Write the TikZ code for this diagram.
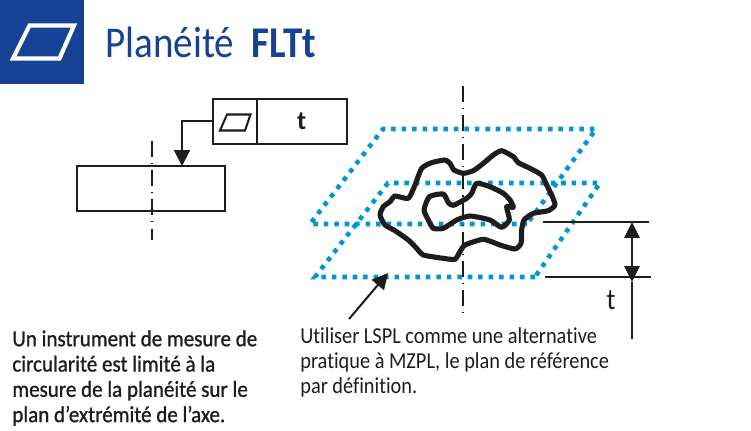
\documentclass[tikz,border=0pt]{standalone}
\usepackage{fontspec}
\setmainfont{Carlito}[Ligatures=NoCommon]
\newfontfamily\narrowfont{Carlito}[Ligatures=NoCommon,FakeStretch=0.89]
\newfontfamily\narrowbold{Carlito}[Ligatures=NoCommon,FakeStretch=0.92,FakeBold=1]
\usepackage{xcolor}
\usetikzlibrary{arrows.meta,positioning}
\definecolor{hdrblue}{HTML}{164194}
\definecolor{planeblue}{HTML}{0095D6}
\definecolor{inkblack}{HTML}{1D1D1B}

\begin{document}
\begin{tikzpicture}[
x=0.02cm,y=-0.02cm,
thinline/.style={draw=inkblack,line width=1.15pt},
thickline/.style={draw=inkblack,line width=1.5pt},
centerline/.style={draw=inkblack,line width=0.7pt,dash pattern=on 9pt off 3.5pt on 0.6pt off 3.5pt},
planeline/.style={draw=planeblue,line width=2.6pt,dash pattern=on 2.6pt off 3.35pt},
blobline/.style={draw=inkblack,line width=2.9pt,line join=round},
pointer/.style={-{Triangle[length=9pt,width=9pt]},inkblack},
twoway/.style={{Triangle[length=9pt,width=8.5pt]}-{Triangle[length=9pt,width=8.5pt]},thickline},
cellbox/.style={thinline,draw,outer sep=0pt,inner sep=0pt,minimum height=25.5pt},
bodytext/.style={anchor=north west,inner sep=0pt,align=left,text=inkblack}
]
    \useasboundingbox (0,0) rectangle (751,430);

    % Draw header
    \fill [hdrblue] (0,0) rectangle (84,84);
    \draw [white,line width=2.4pt,miter limit=10] (13,58.5) -- (29.5,25.5) -- (74,25.5) -- (59.5,58.5) -- cycle;
    \node (title) [anchor=west,inner sep=0pt,text=hdrblue,font=\fontsize{25}{28}\narrowfont] at (105,42) {Planéité\hspace{0.4em}{\bfseries FLTt}};

    % Draw feature frame
    \node (symbolcell) [cellbox,anchor=north west,minimum width=25pt] at (213,99) {};
    \node (tolcell) [cellbox,anchor=west,minimum width=51pt,font=\fontsize{15}{16}\selectfont\bfseries,text=inkblack] at (symbolcell.east) {t};
    \draw [thinline,miter limit=10] (220,130.5) -- (227,114.5) -- (250.5,114.5) -- (245,130.5) -- cycle;

    % Draw part
    \node (part) [cellbox,anchor=north west,minimum width=84.5pt] at (77,166) {};
    \coordinate (parttip) at (182,166);
    \draw [centerline] (152,141) -- (152,240);
    \draw [thinline,pointer] (symbolcell.west) -| (parttip);

    % Draw planes
    \coordinate (A) at (315,277);
    \coordinate (A2) at (535,277);
    \coordinate (B) at (600,183);
    \coordinate (B2) at (388,183);
    \coordinate (C) at (310,224);
    \coordinate (C2) at (527,224);
    \coordinate (D) at (596,129);
    \coordinate (D2) at (383,129);
    \draw [planeline] (C2) -- (C) -- (D2) -- (D) -- (C2);
    \draw [planeline] (A2) -- (A) -- (B2) -- (B) -- (A2);
    \draw [centerline] (463,86) -- (463,316);

    % Draw surface
    \begin{scope}[shift={(300,80)},scale=1/3]
    \draw [blobline] plot [smooth cycle,tension=0.35] coordinates {(365,265) (395,248) (435,240) (450,250) (462,270) (490,280) (520,272) (550,250) (580,225) (605,212) (640,230) (655,248) (690,265) (725,285) (740,315) (755,345) (765,375) (745,392) (700,400) (672,420) (665,450) (663,490) (645,507) (600,495) (550,478) (495,495) (480,515) (465,538) (430,535) (370,525) (350,505) (325,480) (285,452) (255,435) (240,405) (250,380) (270,365) (285,348) (325,355) (345,315)};
    \draw [blobline] plot [smooth cycle,tension=0.35] coordinates {(530,310) (570,320) (610,340) (630,360) (640,382) (620,380) (628,420) (605,442) (570,420) (510,408) (470,420) (430,445) (400,445) (385,420) (372,390) (388,350) (430,342) (445,368) (460,376) (500,355) (515,340)};
    \end{scope}

    % Draw dimension
    \coordinate (dimtop) at (632,222);
    \coordinate (dimbot) at (632,282);
    \coordinate (dimend) at (632,339);
    \draw [thinline] (543,222) -- (649,222);
    \draw [thinline] (545,277) -- (651,277);
    \draw [twoway] (dimtop) -- (dimbot);
    \draw [thickline] (dimbot) -- (dimend);
    \node (tlabel) [inner sep=0pt,text=inkblack,font=\fontsize{17}{18}\narrowfont] at (611,300) {t};

    % Draw pointer
    \coordinate (ptrfoot) at (349,319);
    \coordinate (ptrtip) at (388,273);
    \draw [thinline,pointer] (ptrfoot) -- (ptrtip);

    % Draw text
    \node (lefttext) [bodytext,font=\fontsize{13}{14.4}\narrowbold] at (12,330) {Un instrument de mesure de\\circularité est limité à la\\mesure de la planéité sur le\\plan d’extrémité de l’axe.};
    \node (righttext) [bodytext,font=\fontsize{13}{14.4}\narrowfont] at (300,327) {Utiliser LSPL comme une alternative\\pratique à MZPL, le plan de référence\\par définition.};
\end{tikzpicture}
\end{document}
